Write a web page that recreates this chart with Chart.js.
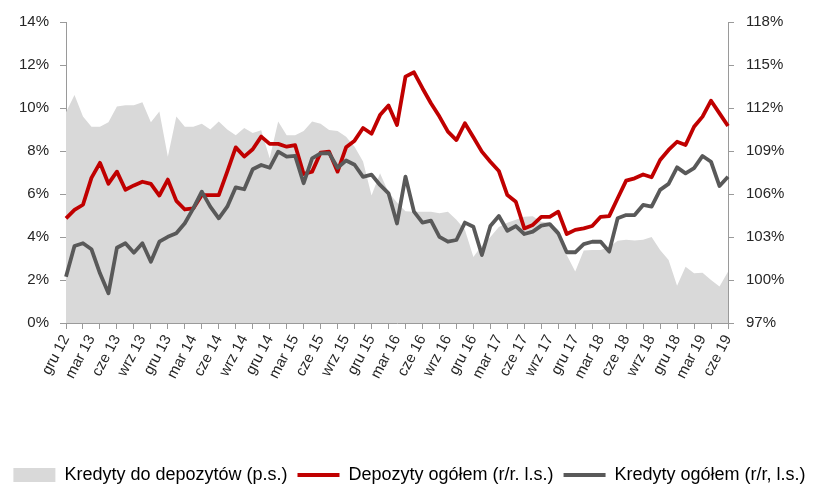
<!DOCTYPE html>
<html>
<head>
<meta charset="utf-8">
<script src="https://cdn.jsdelivr.net/npm/chart.js@4.4.1/dist/chart.umd.min.js"></script>
<style>
  html, body { margin: 0; padding: 0; background: #fff; }
  canvas { display: block; }
</style>
</head>
<body>
<canvas id="chart" width="819" height="486"></canvas>
<script>
const months = [
  'gru 12',
  'sty 13', 'lut 13', 'mar 13', 'kwi 13', 'maj 13', 'cze 13', 'lip 13', 'sie 13', 'wrz 13', 'paź 13', 'lis 13', 'gru 13',
  'sty 14', 'lut 14', 'mar 14', 'kwi 14', 'maj 14', 'cze 14', 'lip 14', 'sie 14', 'wrz 14', 'paź 14', 'lis 14', 'gru 14',
  'sty 15', 'lut 15', 'mar 15', 'kwi 15', 'maj 15', 'cze 15', 'lip 15', 'sie 15', 'wrz 15', 'paź 15', 'lis 15', 'gru 15',
  'sty 16', 'lut 16', 'mar 16', 'kwi 16', 'maj 16', 'cze 16', 'lip 16', 'sie 16', 'wrz 16', 'paź 16', 'lis 16', 'gru 16',
  'sty 17', 'lut 17', 'mar 17', 'kwi 17', 'maj 17', 'cze 17', 'lip 17', 'sie 17', 'wrz 17', 'paź 17', 'lis 17', 'gru 17',
  'sty 18', 'lut 18', 'mar 18', 'kwi 18', 'maj 18', 'cze 18', 'lip 18', 'sie 18', 'wrz 18', 'paź 18', 'lis 18', 'gru 18',
  'sty 19', 'lut 19', 'mar 19', 'kwi 19', 'maj 19', 'cze 19',
];

// Kredyty do depozytów, % (right scale)
const loanToDeposit = [
  111.7, 112.9, 111.4, 110.7, 110.7, 111.0, 112.1, 112.2, 112.2, 112.4,
  111.0, 111.75, 108.6, 111.4, 110.7, 110.7, 110.9, 110.5, 111.05, 110.5,
  110.1, 110.6, 110.25, 110.45, 108.5, 111.05, 110.1, 110.1, 110.4, 111.05,
  110.9, 110.47, 110.4, 110.0, 109.3, 108.26, 105.9, 107.45, 106.1, 105.4,
  104.8, 104.77, 104.77, 104.77, 104.65, 104.77, 104.2, 103.5, 101.6, 102.4,
  103.0, 103.7, 104.0, 104.2, 104.42, 104.45, 104.07, 104.0, 103.5, 101.75,
  100.6, 102.05, 102.1, 102.1, 102.3, 102.74, 102.8, 102.75, 102.8, 103.0,
  102.1, 101.4, 99.6, 100.93, 100.47, 100.5, 100.0, 99.55, 100.58,
];

// Depozyty ogółem r/r, % (left scale)
const depositsYoY = [
  4.87, 5.26, 5.5, 6.75, 7.45, 6.48, 7.04, 6.2, 6.4, 6.57,
  6.47, 5.93, 6.67, 5.68, 5.28, 5.33, 5.95, 5.95, 5.95, 7.04,
  8.17, 7.74, 8.08, 8.67, 8.33, 8.33, 8.2, 8.27, 6.93, 7.04,
  7.92, 7.97, 7.04, 8.17, 8.48, 9.07, 8.8, 9.67, 10.12, 9.21,
  11.46, 11.66, 10.92, 10.22, 9.6, 8.9, 8.51, 9.29, 8.64, 7.97,
  7.5, 7.07, 5.95, 5.64, 4.4, 4.56, 4.94, 4.94, 5.18, 4.14,
  4.33, 4.4, 4.51, 4.94, 4.97, 5.8, 6.62, 6.73, 6.91, 6.78,
  7.58, 8.05, 8.43, 8.28, 9.13, 9.6, 10.34, 9.75, 9.16,
];

// Kredyty ogółem r/r, % (left scale)
const loansYoY = [
  2.15, 3.58, 3.71, 3.43, 2.31, 1.38, 3.5, 3.71, 3.27, 3.71,
  2.85, 3.78, 4.01, 4.17, 4.64, 5.33, 6.11, 5.41, 4.87, 5.41,
  6.31, 6.22, 7.15, 7.35, 7.22, 7.97, 7.74, 7.77, 6.5, 7.66,
  7.89, 7.9, 7.22, 7.56, 7.36, 6.8, 6.9, 6.42, 6.03, 4.63,
  6.81, 5.18, 4.67, 4.76, 4.01, 3.78, 3.86, 4.67, 4.48, 3.16,
  4.51, 4.98, 4.29, 4.51, 4.14, 4.25, 4.53, 4.6, 4.17, 3.29,
  3.29, 3.67, 3.78, 3.78, 3.32, 4.87, 5.02, 5.02, 5.49, 5.41,
  6.19, 6.47, 7.24, 6.96, 7.2, 7.77, 7.5, 6.37, 6.8,
];

const leftTicks = [0, 2, 4, 6, 8, 10, 12, 14];
const rightTicks = [97, 100, 103, 106, 109, 112, 115, 118];

const axisGrey = '#9a9a9a';
const tickFont = { family: "'Liberation Sans', Arial, sans-serif", size: 15 };

new Chart(document.getElementById('chart'), {
  type: 'line',
  data: {
    labels: months,
    datasets: [
      {
        label: 'Kredyty do depozytów (p.s.)',
        data: loanToDeposit,
        yAxisID: 'y1',
        fill: 'start',
        backgroundColor: '#d9d9d9',
        borderColor: '#d9d9d9',
        borderWidth: 0,
        pointRadius: 0,
        pointStyle: 'rect',
        order: 3,
      },
      {
        label: 'Depozyty ogółem (r/r. l.s.)',
        data: depositsYoY,
        yAxisID: 'y',
        borderColor: '#c00000',
        backgroundColor: '#c00000',
        borderWidth: 3.8,
        borderJoinStyle: 'round',
        pointRadius: 0,
        pointStyle: 'line',
        order: 2,
      },
      {
        label: 'Kredyty ogółem (r/r, l.s.)',
        data: loansYoY,
        yAxisID: 'y',
        borderColor: '#595959',
        backgroundColor: '#595959',
        borderWidth: 3.8,
        borderJoinStyle: 'round',
        pointRadius: 0,
        pointStyle: 'line',
        order: 1,
      },
    ],
  },
  options: {
    responsive: false,
    animation: false,
    devicePixelRatio: 1,
    layout: { padding: { top: 22, left: 0, right: 0, bottom: -8 } },
    plugins: {
      tooltip: { enabled: false },
      legend: {
        position: 'bottom',
        labels: {
          usePointStyle: true,
          pointStyleWidth: 42,
          boxHeight: 14,
          padding: 10,
          color: '#000',
          font: { family: "'Liberation Sans', Arial, sans-serif", size: 18 },
          sort: (a, b) => a.datasetIndex - b.datasetIndex,
        },
      },
    },
    scales: {
      x: {
        offset: false,
        afterFit: (s) => { s.height = 133; },
        border: { color: axisGrey },
        grid: {
          drawOnChartArea: false,
          tickLength: 6,
          color: (ctx) => (ctx.index % 2 === 0 ? axisGrey : 'rgba(0,0,0,0)'),
        },
        ticks: {
          autoSkip: false,
          maxRotation: 62,
          minRotation: 62,
          padding: 3,
          color: '#262626',
          font: tickFont,
          callback: (v, i) => (i % 3 === 0 ? months[i] : ''),
        },
      },
      y: {
        position: 'left',
        min: 0,
        max: 14,
        afterFit: (s) => { s.width = 66; },
        afterBuildTicks: (s) => { s.ticks = leftTicks.map((v) => ({ value: v })); },
        border: { color: axisGrey },
        grid: { drawOnChartArea: false, tickLength: 6, color: axisGrey },
        ticks: { padding: 11, color: '#262626', font: tickFont, callback: (v) => v + '%' },
      },
      y1: {
        position: 'right',
        min: 97,
        max: 118,
        afterFit: (s) => { s.width = 91; },
        afterBuildTicks: (s) => { s.ticks = rightTicks.map((v) => ({ value: v })); },
        border: { color: axisGrey },
        grid: { drawOnChartArea: false, tickLength: 6, color: axisGrey },
        ticks: { padding: 12, color: '#262626', font: tickFont, callback: (v) => v + '%' },
      },
    },
  },
});
</script>
</body>
</html>
